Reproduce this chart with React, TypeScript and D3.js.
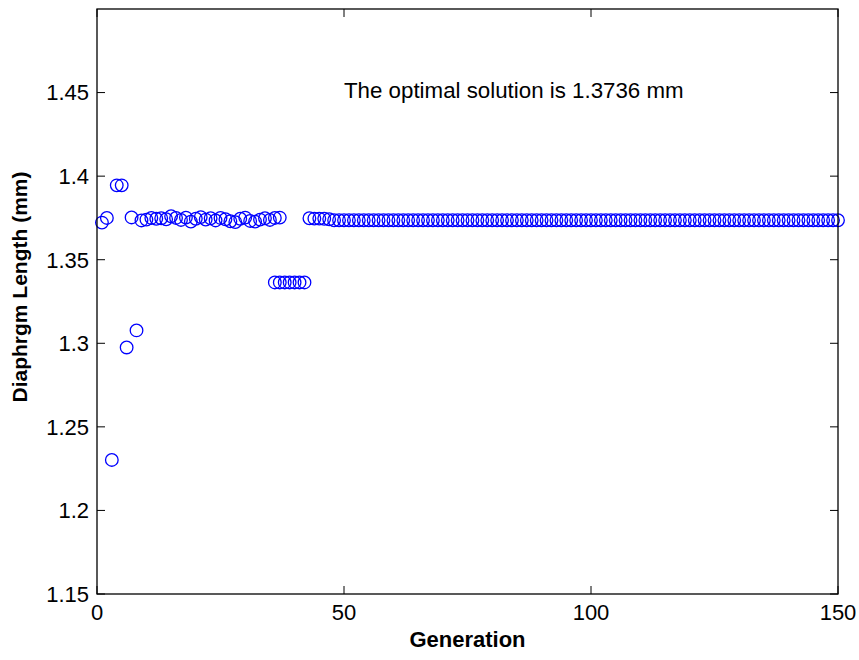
import React from "react";
import * as d3 from "d3";

const generations: number[] = [
  1, 2, 3, 4, 5, 6, 7, 8, 9, 10, 11, 12, 13, 14, 15, 16, 17, 18, 19, 20,
  21, 22, 23, 24, 25, 26, 27, 28, 29, 30, 31, 32, 33, 34, 35, 36, 37,
  36, 37, 38, 39, 40, 41, 42,
  43, 44, 45, 46, 47, 48, 49, 50, 51, 52, 53, 54, 55, 56, 57, 58, 59, 60,
  61, 62, 63, 64, 65, 66, 67, 68, 69, 70, 71, 72, 73, 74, 75, 76, 77, 78, 79, 80,
  81, 82, 83, 84, 85, 86, 87, 88, 89, 90, 91, 92, 93, 94, 95, 96, 97, 98, 99, 100,
  101, 102, 103, 104, 105, 106, 107, 108, 109, 110, 111, 112, 113, 114, 115, 116, 117, 118, 119, 120,
  121, 122, 123, 124, 125, 126, 127, 128, 129, 130, 131, 132, 133, 134, 135, 136, 137, 138, 139, 140,
  141, 142, 143, 144, 145, 146, 147, 148, 149, 150,
];

const lengths: number[] = [
  1.3722, 1.3750, 1.2302, 1.3945, 1.3945, 1.2975, 1.3753, 1.3077, 1.3735, 1.3740,
  1.3750, 1.3745, 1.3748, 1.3742, 1.3760, 1.3750, 1.3738, 1.3752, 1.3728, 1.3745,
  1.3755, 1.3740, 1.3748, 1.3735, 1.3750, 1.3742, 1.3730, 1.3725, 1.3745, 1.3752,
  1.3732, 1.3728, 1.3740, 1.3748, 1.3738, 1.3750, 1.3752,
  1.3364, 1.3364, 1.3364, 1.3364, 1.3364, 1.3364, 1.3364,
  1.3748, 1.3746, 1.3746, 1.3745, 1.3742, 1.3736, 1.3736, 1.3736, 1.3736, 1.3736,
  1.3736, 1.3736, 1.3736, 1.3736, 1.3736, 1.3736, 1.3736, 1.3736, 1.3736, 1.3736,
  1.3736, 1.3736, 1.3736, 1.3736, 1.3736, 1.3736, 1.3736, 1.3736, 1.3736, 1.3736,
  1.3736, 1.3736, 1.3736, 1.3736, 1.3736, 1.3736, 1.3736, 1.3736, 1.3736, 1.3736,
  1.3736, 1.3736, 1.3736, 1.3736, 1.3736, 1.3736, 1.3736, 1.3736, 1.3736, 1.3736,
  1.3736, 1.3736, 1.3736, 1.3736, 1.3736, 1.3736, 1.3736, 1.3736, 1.3736, 1.3736,
  1.3736, 1.3736, 1.3736, 1.3736, 1.3736, 1.3736, 1.3736, 1.3736, 1.3736, 1.3736,
  1.3736, 1.3736, 1.3736, 1.3736, 1.3736, 1.3736, 1.3736, 1.3736, 1.3736, 1.3736,
  1.3736, 1.3736, 1.3736, 1.3736, 1.3736, 1.3736, 1.3736, 1.3736, 1.3736, 1.3736,
  1.3736, 1.3736, 1.3736, 1.3736, 1.3736, 1.3736, 1.3736, 1.3736, 1.3736, 1.3736,
  1.3736, 1.3736, 1.3736, 1.3736, 1.3736, 1.3736, 1.3736, 1.3736, 1.3736, 1.3736,
  1.3736, 1.3736, 1.3736, 1.3736, 1.3736,
];

const xTicks: number[] = [0, 50, 100, 150];
const yTicks: number[] = [1.15, 1.2, 1.25, 1.3, 1.35, 1.4, 1.45];
const xDomain: [number, number] = [0, 150];
const yDomain: [number, number] = [1.15, 1.5];
const annotation = "The optimal solution is 1.3736 mm";
const annotationAt: [number, number] = [50, 1.447];
const xTitle = "Generation";
const yTitle = "Diaphrgm Length (mm)";

const W = 859;
const H = 660;
const left = 97;
const right = 838;
const top = 9;
const bottom = 594;
const font = "Arial, 'Liberation Sans', sans-serif";
const fs = 22;
const tickLen = 8;

export default function App() {
  const x = d3.scaleLinear().domain(xDomain).range([left, right]);
  const y = d3.scaleLinear().domain(yDomain).range([bottom, top]);

  return (
    <svg
      width={W}
      height={H}
      style={{ position: "absolute", left: 0, top: 0, background: "#fff" }}
    >
      <rect x={0} y={0} width={W} height={H} fill="#fff" />
      {xTicks.map((t) => (
        <g key={"xt" + t}>
          <line x1={x(t)} x2={x(t)} y1={bottom} y2={bottom - tickLen} stroke="#000" />
          <line x1={x(t)} x2={x(t)} y1={top} y2={top + tickLen} stroke="#000" />
          <text
            x={x(t)}
            y={620}
            textAnchor="middle"
            fontFamily={font}
            fontSize={fs}
            fill="#000"
          >
            {t}
          </text>
        </g>
      ))}
      {yTicks.map((t) => (
        <g key={"yt" + t}>
          <line x1={left} x2={left + tickLen} y1={y(t)} y2={y(t)} stroke="#000" />
          <line x1={right} x2={right - tickLen} y1={y(t)} y2={y(t)} stroke="#000" />
          <text
            x={89}
            y={y(t)}
            dy="0.36em"
            textAnchor="end"
            fontFamily={font}
            fontSize={fs}
            fill="#000"
          >
            {d3.format("")(t)}
          </text>
        </g>
      ))}
      {generations.map((g, i) => (
        <circle
          key={"p" + i}
          cx={x(g)}
          cy={y(lengths[i])}
          r={6.3}
          fill="none"
          stroke="#0000ff"
          strokeWidth={1.3}
        />
      ))}
      <rect
        x={left}
        y={top}
        width={right - left}
        height={bottom - top}
        fill="none"
        stroke="#000"
        strokeWidth={1.3}
      />
      <text
        x={x(annotationAt[0])}
        y={y(annotationAt[1])}
        fontFamily={font}
        fontSize={22.3}
        fill="#000"
      >
        {annotation}
      </text>
      <text
        x={(left + right) / 2}
        y={647}
        textAnchor="middle"
        fontFamily={font}
        fontSize={22}
        fontWeight="bold"
        fill="#000"
      >
        {xTitle}
      </text>
      <text
        transform={`translate(27,287) rotate(-90)`}
        textAnchor="middle"
        fontFamily={font}
        fontSize={21}
        fontWeight="bold"
        fill="#000"
      >
        {yTitle}
      </text>
    </svg>
  );
}
